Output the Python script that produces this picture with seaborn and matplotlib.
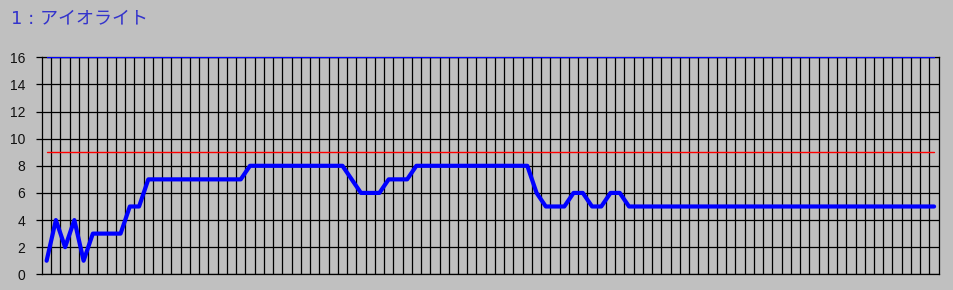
import numpy as np
import pandas as pd
import matplotlib
matplotlib.use("Agg")
import matplotlib.pyplot as plt
import seaborn as sns

# ---- data ----
title_text = "1 : アイオライト"
values = [1, 4, 2, 4, 1, 3, 3, 3, 3, 5, 5,
          7, 7, 7, 7, 7, 7, 7, 7, 7, 7, 7,
          8, 8, 8, 8, 8, 8, 8, 8, 8, 8, 8,
          7, 6, 6, 6, 7, 7, 7,
          8, 8, 8, 8, 8, 8, 8, 8, 8, 8, 8, 8, 8,
          6, 5, 5, 5, 6, 6, 5, 5, 6, 6,
          5, 5, 5, 5, 5, 5, 5, 5, 5, 5, 5, 5, 5, 5, 5, 5, 5,
          5, 5, 5, 5, 5, 5, 5, 5, 5, 5, 5, 5, 5, 5, 5, 5, 5]
threshold_value = 9
max_value = 16
y_ticks = [0, 2, 4, 6, 8, 10, 12, 14, 16]

n = len(values)
pos = np.arange(n)
df = pd.DataFrame({"pos": pos, "value": values,
                   "threshold": [threshold_value] * n,
                   "max": [max_value] * n})

sns.set_theme(style="white")
plt.rcParams["font.family"] = ["Liberation Sans", "DejaVu Sans"]

bg = "#C0C0C0"
fig = plt.figure(figsize=(9.54, 2.90), dpi=100, facecolor=bg)
ax = fig.add_axes([42 / 954, (290 - 274.3) / 290, (938.7 - 42) / 954, (274.3 - 57.3) / 290])
ax.set_facecolor(bg)

# grid
for b in np.arange(0.5, n - 0.5, 1.0):
    ax.axvline(b, color="#000000", lw=0.9, zorder=1)
for t in y_ticks:
    ax.axhline(t, color="#000000", lw=0.9, zorder=1)

sns.lineplot(data=df, x="pos", y="max", ax=ax, color="#0000FF", lw=1.0, zorder=3)
sns.lineplot(data=df, x="pos", y="threshold", ax=ax, color="#FF0000", lw=1.0, zorder=3)
sns.lineplot(data=df, x="pos", y="value", ax=ax, color="#0000FF", lw=3.0, zorder=4,
             solid_joinstyle="round")

ax.set_xlim(-0.5, n - 0.5)
ax.set_ylim(0, 16)
ax.set_xticks([])
ax.set_yticks(y_ticks)
ax.set_yticklabels([str(t) for t in y_ticks], fontsize=10, color="#101010")
ax.tick_params(axis="y", direction="out", length=4, width=0.9, color="#000000", pad=8, left=True)
ax.set_xlabel("")
ax.set_ylabel("")
for s in ax.spines.values():
    s.set_visible(True)
    s.set_color("#000000")
    s.set_linewidth(0.9)

fig.text(11 / 954, 1 - 18 / 290, title_text, fontsize=13, color="#3333CC",
         family=["DejaVu Sans", "Noto Sans CJK JP"], va="center", ha="left")

fig.savefig("out.png", dpi=100, facecolor=bg)
